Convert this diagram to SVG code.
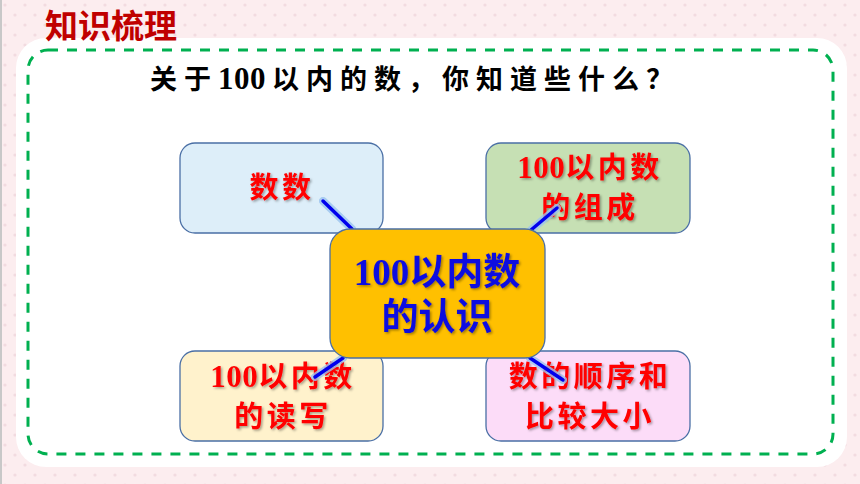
<svg xmlns="http://www.w3.org/2000/svg" width="860" height="484" viewBox="0 0 860 484">
<defs>
<pattern id="dots" width="20" height="20" patternUnits="userSpaceOnUse">
<rect width="20" height="20" fill="#fcedef"/>
<circle cx="5" cy="5" r="1.6" fill="#f2dbe0"/>
<circle cx="15" cy="15" r="1.6" fill="#f2dbe0"/>
</pattern>
<filter id="tsh" x="-10%" y="-10%" width="130%" height="140%">
<feDropShadow dx="1.5" dy="1.5" stdDeviation="0.8" flood-color="#000" flood-opacity="0.35"/>
</filter>
</defs>
<style>
.node{stroke:#4a6fa5;stroke-width:1.3}
.lbl{font-family:"Liberation Serif","Noto Sans CJK SC",serif;font-weight:700;font-size:29px;fill:#ff0000;text-anchor:middle;letter-spacing:3.5px}
.num{font-size:31px;letter-spacing:0.5px}
.ctr{font-family:"Liberation Serif","Noto Sans CJK SC",serif;font-weight:700;font-size:37px;fill:#1010e0;text-anchor:middle}
.con{stroke:#0000ee;stroke-width:3.5;stroke-linecap:round}
.conglow{stroke:#9cc4f0;stroke-width:8;stroke-linecap:round;opacity:0.8}
</style>
<rect width="860" height="484" fill="url(#dots)"/>
<line x1="1" y1="0" x2="1" y2="484" stroke="#c8c8c8" stroke-width="2"/>
<rect x="16" y="38" width="831" height="429" rx="30" fill="#ffffff"/>
<rect x="28" y="50" width="805" height="404" rx="20" fill="none" stroke="#00b050" stroke-width="3" stroke-dasharray="10 9"/>
<text x="45" y="38" font-family="'Noto Sans CJK SC',sans-serif" font-weight="700" font-size="33" fill="#c00000">知识梳理</text>
<text x="150" y="89" font-family="'Liberation Serif','Noto Sans CJK SC',serif" font-weight="700" font-size="27" fill="#000" letter-spacing="7">关于<tspan font-size="31" letter-spacing="0.5">100</tspan><tspan dx="6">以内的数，你知道些什么？</tspan></text>

<g id="node-shushu">
<rect class="node" x="180" y="143" width="203" height="90" rx="15" fill="#ddeef9"/>
<text class="lbl" x="282" y="198" filter="url(#tsh)">数数</text>
</g>
<g id="node-zucheng">
<rect class="node" x="486" y="143" width="204" height="90" rx="15" fill="#c6e0b4"/>
<text class="lbl" x="590" y="178" filter="url(#tsh)"><tspan class="num">100</tspan>以内数</text>
<text class="lbl" x="590" y="218" filter="url(#tsh)">的组成</text>
</g>
<g id="node-duxie">
<rect class="node" x="180" y="351" width="203" height="90" rx="15" fill="#fff2cc"/>
<text class="lbl" x="283" y="387" filter="url(#tsh)"><tspan class="num">100</tspan>以内数</text>
<text class="lbl" x="283" y="427" filter="url(#tsh)">的读写</text>
</g>
<g id="node-shunxu">
<rect class="node" x="486" y="351" width="204" height="90" rx="15" fill="#fcdcf8"/>
<text class="lbl" x="590" y="387" filter="url(#tsh)">数的顺序和</text>
<text class="lbl" x="590" y="427" filter="url(#tsh)">比较大小</text>
</g>

<g id="connectors">
<line class="conglow" x1="323" y1="201" x2="352" y2="229"/>
<line class="con" x1="323" y1="201" x2="352" y2="229"/>
<line class="conglow" x1="557" y1="208" x2="531" y2="230"/>
<line class="con" x1="557" y1="208" x2="531" y2="230"/>
<line class="conglow" x1="343" y1="358" x2="315" y2="377"/>
<line class="con" x1="343" y1="358" x2="315" y2="377"/>
<line class="conglow" x1="530" y1="358" x2="563" y2="380"/>
<line class="con" x1="530" y1="358" x2="563" y2="380"/>
</g>

<g id="node-center">
<rect class="node" x="330" y="229" width="215" height="129" rx="20" fill="#ffc000"/>
<text class="ctr" x="437" y="285" filter="url(#tsh)">100以内数</text>
<text class="ctr" x="437" y="330" filter="url(#tsh)">的认识</text>
</g>
</svg>
